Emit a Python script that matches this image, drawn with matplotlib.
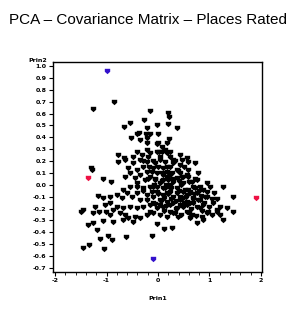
import matplotlib
matplotlib.use("Agg")
import matplotlib.pyplot as plt
from matplotlib.path import Path
import numpy as np

title = "PCA \u2013 Covariance Matrix \u2013 Places Rated"
xlabel = "Prin1"
ylabel = "Prin2"
xticks = [-2, -1, 0, 1, 2]
yticks = [-0.7, -0.6, -0.5, -0.4, -0.3, -0.2, -0.1, 0.0, 0.1, 0.2, 0.3, 0.4, 0.5, 0.6, 0.7, 0.8, 0.9, 1.0]

# ordinary cities (Prin1, Prin2)
prin1 = [
    -0.86, -1.27, -0.155, 0.188, 0.208, -0.278, -0.544, -0.66, 0.188, -0.025, 0.363, -0.208,
    -0.408, -0.363, -0.239, -0.155, 0.0, -0.524, -0.35, -0.219, 0.208, -0.208, -0.025, 0.169,
    0.072, -0.219, 0.025, 0.136, 0.233,
    -0.77, -0.64, -0.48, -1.295, 0.006, 0.07, 0.3, 0.46, 0.59,
    -0.771, -0.654, -0.415, -0.317, -0.156, -0.026, 0.168, 0.233, 0.427, 0.556, 0.718, 0.427,
    0.297, 0.038, -0.22, -0.479, -0.576, -0.415, -0.285, -0.091, 0.103, 0.362, 0.589,
    -0.188, -0.059, 0.136, 0.006, 0.233, -0.35, -0.123, 0.168,
    -0.641, -0.544, -0.35, -0.156, -0.026, 0.168, 0.362, 0.556, 0.75, 0.945, 1.009, 0.88,
    0.686, 0.492, 0.233, 0.038, -0.156, -0.285, -0.415, -0.544, -0.674,
    -0.253, -0.059, 0.103, 0.297, 0.427, 0.653, -0.091, 0.136, 0.362, 0.589, 0.815, 0.233,
    0.071, -0.22, -0.447, 0.492,
    -1.288, -1.075, -0.919,
    -1.159, -1.062, -0.932, -0.803, -0.706, -0.609, -0.512, -0.35, -0.22, -0.091, 0.038, 0.168,
    0.297, 0.427, 0.556, 0.686, 0.815, 0.945, 1.087, 1.255, 1.449, 1.333, 1.139, 0.977, 0.88,
    0.75, 0.621, 0.492, 0.362, 0.233, 0.103, -0.026, -0.156, -0.285, -0.415, -0.544, -0.674,
    -0.803, -0.932, -1.029, -1.224,
    -0.026, 0.103, 0.233, 0.362, 0.492, 0.621, 0.75, -0.22, -0.091, 0.168, 0.297, 0.427, 0.556,
    0.686, 0.815, 1.074, 1.204, -0.415, 0.038,
    -1.495, -1.45, -1.256, -1.139, -1.01, -0.868, -0.738, -0.641, -0.576, -0.447, -0.479, -0.35,
    -0.22, -0.156, 0.233, 0.394, 0.556, 0.75, 0.945, 1.139, 1.268, 1.449, -1.353, -1.269,
    -1.191, -1.062, -0.868, -0.674, -0.013, 0.116, 0.265,
    0.038, 0.168, -0.091, 0.33, 0.653, 0.847, 1.042, -0.932,
    -1.126, -0.965, -0.9, -1.45, -1.334, -1.049, -0.622, -0.124,
    0.15, 0.3, 0.45, 0.6, 0.55, 0.4, 0.2, 0.1, 0.0, -0.05, 0.7, 0.8, 0.5, 0.25, 0.35, 0.65, 0.9,
    0.1, 0.38, 0.05, -0.12, 0.72, 0.95, 1.15, 0.58, 0.28, -0.2, -0.3, -0.4, 0.12, 0.45, 0.62,
    0.85, -0.05, 0.33, 0.5, -0.1, 0.18, 0.78, 1.0, 0.42, 0.22, 0.68, 0.08, 0.52, -0.17, 0.03,
    -0.3, 0.87, 1.2,
    0.26, 0.48, 0.63, 0.77, 0.92, 0.34, 0.12, -0.02, 0.56, 0.71, 0.41, 0.19, 0.84, 1.05, -0.08,
    0.29, 0.6, 0.47, 0.74, 0.16,
]
prin2 = [
    0.697, 0.638, 0.621, 0.602, 0.573, 0.545, 0.523, 0.487, 0.512, 0.503, 0.478, 0.476,
    0.428, 0.434, 0.428, 0.425, 0.428, 0.394, 0.377, 0.391, 0.386, 0.354, 0.343, 0.354,
    0.316, 0.293, 0.279, 0.293, 0.279,
    0.194, 0.209, 0.237, 0.139, 0.349, 0.279, 0.209, 0.209, 0.195,
    0.251, 0.223, 0.279, 0.251, 0.265, 0.279, 0.265, 0.237, 0.251, 0.223, 0.181, 0.167,
    0.181, 0.209, 0.195, 0.181, 0.139, 0.125, 0.153, 0.139, 0.139, 0.125, 0.125,
    0.237, 0.181, 0.195, 0.153, 0.153, 0.209, 0.111, 0.111,
    0.069, 0.097, 0.083, 0.069, 0.097, 0.069, 0.055, 0.083, 0.040, 0.012, -0.016, -0.044,
    -0.016, 0.012, -0.002, 0.012, -0.016, -0.03, 0.012, -0.016, -0.044,
    0.040, 0.040, 0.040, 0.026, 0.097, 0.026, -0.016, -0.030, -0.030, -0.044, -0.016, 0.083,
    0.097, 0.111, 0.054, 0.069,
    0.125, 0.046, 0.026,
    -0.094, -0.114, -0.1, -0.086, -0.114, -0.072, -0.1, -0.128, -0.086, -0.1, -0.128, -0.072,
    -0.1, -0.128, -0.086, -0.114, -0.128, -0.1, -0.072, -0.016, -0.1, -0.198, -0.212, -0.226, -0.17,
    -0.184, -0.156, -0.184, -0.198, -0.17, -0.184, -0.198, -0.17, -0.184, -0.198, -0.184, -0.198,
    -0.184, -0.156, -0.17, -0.184,
    -0.058, -0.086, -0.058, -0.072, -0.058, -0.058, -0.072, -0.128, -0.156, -0.142, -0.156, -0.17, -0.142,
    -0.156, -0.198, -0.156, -0.184, -0.072, -0.17,
    -0.226, -0.212, -0.24, -0.226, -0.226, -0.212, -0.24, -0.254, -0.282, -0.268, -0.31, -0.282,
    -0.254, -0.226, -0.226, -0.268, -0.226, -0.324, -0.24, -0.226, -0.296, -0.226, -0.338, -0.319,
    -0.38, -0.302, -0.31, -0.296, -0.33, -0.372, -0.366,
    -0.254, -0.268, -0.24, -0.24, -0.254, -0.268, -0.254, -0.254,
    -0.459, -0.431, -0.465, -0.535, -0.507, -0.54, -0.442, -0.431,
    0.0, 0.05, 0.0, 0.02, -0.1, -0.05, -0.08, -0.03, -0.08, 0.05, -0.08, -0.05, -0.15, -0.12, -0.2, -0.2, -0.15,
    0.08, 0.12, -0.14, -0.06, 0.05, -0.06, -0.12, 0.07, 0.1, 0.05, -0.05, -0.02, -0.22, -0.25, -0.28,
    -0.22, -0.16, 0.2, 0.15, 0.2, 0.15, 0.1, -0.19, -0.1, -0.02, -0.12, 0.03, -0.04, 0.15, 0.23,
    0.2, -0.3, -0.25,
    -0.03, -0.11, -0.07, -0.13, -0.1, -0.14, -0.11, -0.02, -0.17, -0.03, 0.03, 0.04, -0.09, -0.12, 0.0,
    -0.24, -0.24, 0.07, -0.26, -0.18,
]

# highlighted cities
red_prin1 = [-1.366, 1.896]
red_prin2 = [0.054, -0.114]
blue_prin1 = [-0.99, -0.104]
blue_prin2 = [0.958, -0.625]

shield = Path([(-1, 1), (1, 1), (1, -0.1), (0, -1), (-1, -0.1), (-1, 1)],
              [Path.MOVETO, Path.LINETO, Path.LINETO, Path.LINETO, Path.LINETO, Path.CLOSEPOLY])

fig = plt.figure(figsize=(2.97, 3.10), dpi=100)
ax = fig.add_axes([53/297, 38/310, 209/297, 210/310])

ax.scatter(prin1, prin2, marker=shield, s=15, color="black", linewidths=0)
ax.scatter(red_prin1, red_prin2, marker=shield, s=15, color="#ee1144", linewidths=0)
ax.scatter(blue_prin1, blue_prin2, marker=shield, s=15, color="#3311cc", linewidths=0)

ax.set_xlim(-2.04, 2.02)
ax.set_ylim(-0.734, 1.034)
ax.set_xticks(xticks)
ax.set_xticklabels([str(t) for t in xticks])
ax.set_xticks(np.arange(-2, 2.01, 0.2), minor=True)
ax.set_yticks(yticks)
ax.set_yticklabels(["%.1f" % t for t in yticks])

for lab in ax.get_xticklabels() + ax.get_yticklabels():
    lab.set_fontsize(4.5)
    lab.set_fontweight("bold")
ax.tick_params(axis="both", which="major", length=3, width=0.8, pad=1.5)
ax.tick_params(axis="x", which="minor", length=1.8, width=0.6)
for sp in ax.spines.values():
    sp.set_linewidth(1.0)

fig.text(158/297, 1 - 298/310, xlabel, ha="center", va="center", fontsize=4.5, fontweight="bold")
fig.text(38/297, 1 - 60/310, ylabel, ha="center", va="center", fontsize=4.5, fontweight="bold")
fig.text(148/297, 1 - 20/310, title, ha="center", va="center", fontsize=11,
         family="Liberation Sans")

fig.savefig("out.png", dpi=100)
